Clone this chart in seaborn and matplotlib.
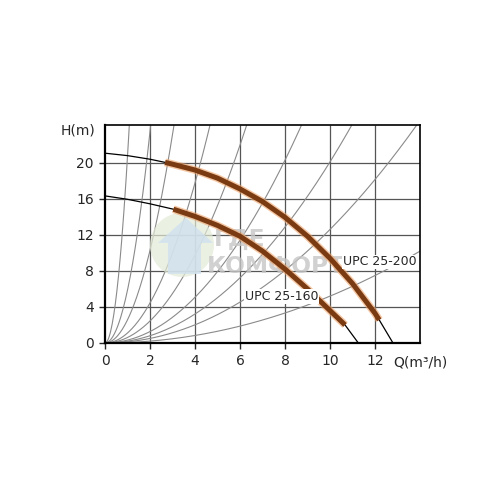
import numpy as np
import pandas as pd
import matplotlib
matplotlib.use("Agg")
import matplotlib.pyplot as plt
import seaborn as sns
from matplotlib.patches import Ellipse, Polygon

# pump curve UPC 25-200 (Q m3/h, H m)
q_200 = [0, 1, 2, 2.67, 3, 4, 5, 6, 7, 8, 9, 10, 11, 12, 12.19, 12.8]
h_200 = [21.07, 20.8, 20.4, 20.05, 19.85, 19.2, 18.3, 17.1, 15.7, 13.95, 11.85, 9.4, 6.6, 3.3, 2.56, 0]
# working range (thick brown) of UPC 25-200
q_200_work = [2.67, 3, 4, 5, 6, 7, 8, 9, 10, 11, 12, 12.19]
h_200_work = [20.05, 19.85, 19.2, 18.3, 17.1, 15.7, 13.95, 11.85, 9.4, 6.6, 3.3, 2.56]

# pump curve UPC 25-160
q_160 = [0, 1, 2, 3.04, 4, 5, 6, 7, 8, 9, 10, 10.67, 11.26]
h_160 = [16.33, 15.95, 15.45, 14.85, 14.05, 13.05, 11.85, 10.2, 8.2, 6.0, 3.6, 2.0, 0]
q_160_work = [3.04, 4, 5, 6, 7, 8, 9, 10, 10.67]
h_160_work = [14.85, 14.05, 13.05, 11.85, 10.2, 8.2, 6.0, 3.6, 2.0]

# system (resistance) curves H = k * Q^2, coefficients read from where they cross the frame
k_system = [20.7, 5.87, 2.57, 1.11, 0.61, 0.317, 0.201, 0.126, 0.052]

x_ticks = [0, 2, 4, 6, 8, 10, 12]
y_ticks = [0, 4, 8, 12, 16, 20]

sns.set_style("white")
plt.rcParams['font.family'] = ['DejaVu Sans']

fig = plt.figure(figsize=(4.96, 4.96), dpi=100)
ax = fig.add_axes([0.2117, 0.3085, 0.635, 0.4395])

# grid
for xv in x_ticks[1:]:
    ax.axvline(xv, color="#555555", lw=0.9, zorder=1)
for yv in y_ticks[1:]:
    ax.axhline(yv, color="#555555", lw=0.9, zorder=1)

# system curves
q_line = np.linspace(0, 14, 400)
for k in k_system:
    sns.lineplot(x=q_line, y=k * q_line ** 2, ax=ax, color="#8a8a8a", lw=0.8,
                 estimator=None, sort=False, zorder=2)

# watermark (logo + text), pixel sizes converted to data units
px_q, px_h = 1 / 22.5, 1 / 9.0
def to_data(px, py):
    return ((px - 105) * px_q, (343 - py) * px_h)

ax.add_patch(Ellipse(to_data(182, 245), 64 * px_q, 64 * px_h, color="#e2ead6",
                     alpha=0.7, zorder=2.5, lw=0))
house = [to_data(*p) for p in [(168, 274), (168, 243), (158, 243), (186, 218),
                               (213, 243), (201, 243), (201, 274)]]
ax.add_patch(Polygon(house, closed=True, color="#cfe0ef", alpha=0.8, zorder=2.6, lw=0))
ax.text(*to_data(214, 246), "ГДЕ", fontsize=16.8, fontweight="bold", color="#c6c6c6",
        alpha=0.8, va="baseline", ha="left", zorder=2.7)
ax.text(*to_data(207, 273), "КОМФОРТ", fontsize=16.8, fontweight="bold", color="#c6c6c6",
        alpha=0.8, va="baseline", ha="left", zorder=2.7)

# pump curves: thin black line, thick brown working range with orange halo
for q, h, qw, hw in [(q_200, h_200, q_200_work, h_200_work),
                     (q_160, h_160, q_160_work, h_160_work)]:
    sns.lineplot(x=q, y=h, ax=ax, color="black", lw=0.9, estimator=None, sort=False, zorder=3)
    sns.lineplot(x=qw, y=hw, ax=ax, color="#eea36a", lw=5.6, alpha=0.6,
                 estimator=None, sort=False, zorder=4)
    sns.lineplot(x=qw, y=hw, ax=ax, color="#7a3a12", lw=3.6,
                 estimator=None, sort=False, zorder=5)
for line in ax.lines:
    line.set_solid_capstyle("butt")

ax.text(10.58, 9.0, "UPC 25-200", fontsize=9, va="center", ha="left", zorder=6,
        bbox=dict(facecolor="white", edgecolor="none", pad=0.5))
ax.text(6.22, 5.15, "UPC 25-160", fontsize=9, va="center", ha="left", zorder=6,
        bbox=dict(facecolor="white", edgecolor="none", pad=0.5))

ax.set_xlim(0, 14)
ax.set_ylim(0, 24.2)
ax.set_xticks(x_ticks)
ax.set_yticks(y_ticks)
ax.tick_params(axis="both", labelsize=10, length=4, width=1, direction="out", pad=4)
ax.tick_params(axis="x", bottom=True)
ax.tick_params(axis="y", left=True)
for side in ["left", "bottom"]:
    ax.spines[side].set_linewidth(1.6)
for side in ["top", "right"]:
    ax.spines[side].set_linewidth(1.2)
for s in ax.spines.values():
    s.set_color("black")
    s.set_zorder(7)
ax.set_xlabel("")
ax.set_ylabel("")

fig.text(78 / 496, 1 - 130 / 496, "H(m)", fontsize=10, ha="center", va="center")
fig.text(420 / 496, 1 - 362 / 496, "Q(m³/h)", fontsize=10, ha="center", va="center")

fig.savefig("out.png", dpi=100, facecolor="white")
